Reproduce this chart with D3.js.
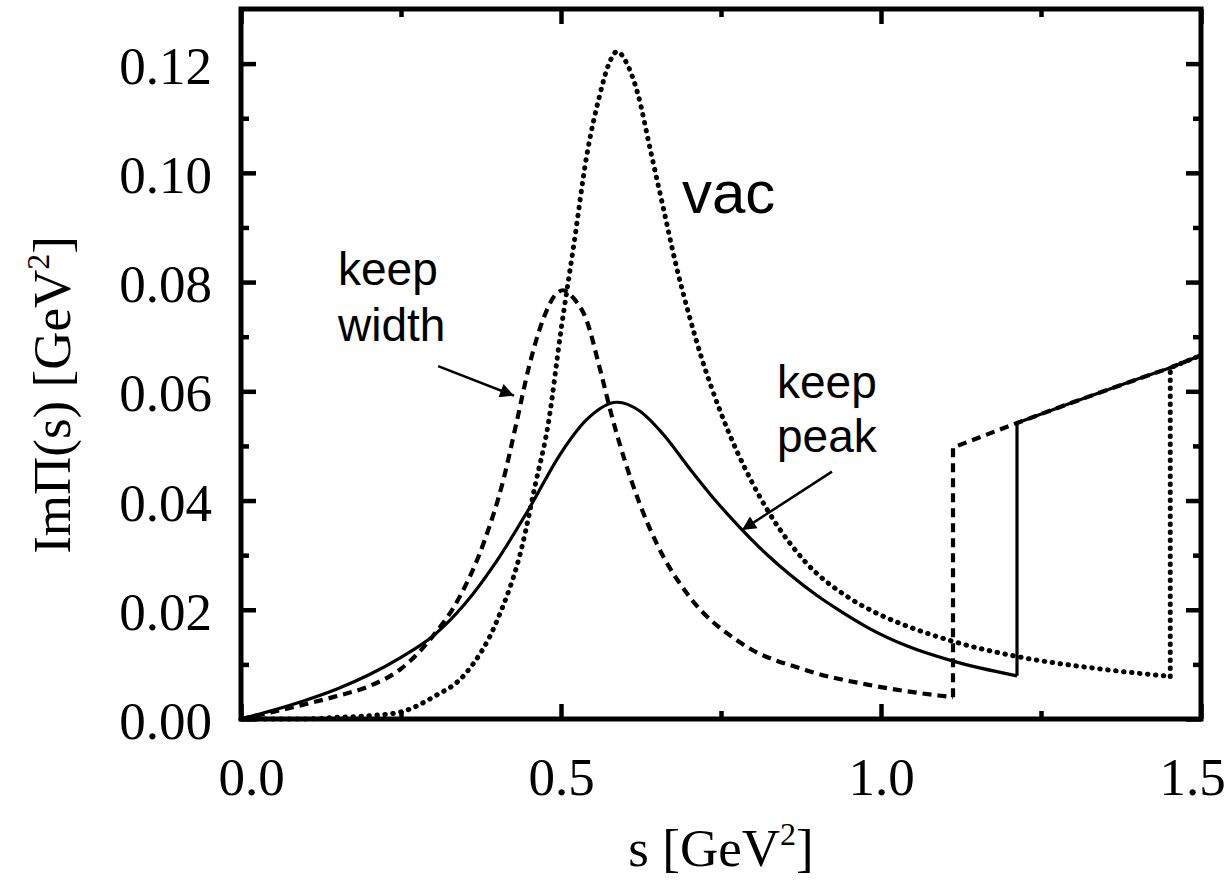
<!DOCTYPE html>
<html>
<head>
<meta charset="utf-8">
<script src="https://cdn.jsdelivr.net/npm/d3@7"></script>
<style>
  body { margin: 0; background: #fff; }
  .tick text { font-family: "Liberation Serif", "Times New Roman", serif; font-size: 53px; fill: #000; }
  .note { font-family: "Liberation Sans", Arial, sans-serif; fill: #000; }
</style>
</head>
<body>
<div id="vis"></div>
<script>
// ---------------------------------- datos ----------------------------------
// s [GeV^2] e ImPi(s) [GeV^2]
const S_VAC = [0, 0.1, 0.15, 0.2, 0.25, 0.3, 0.35, 0.4, 0.44, 0.46, 0.48, 0.5, 0.52, 0.54, 0.56, 0.575,
  0.5875, 0.605, 0.62, 0.64, 0.66, 0.68, 0.70, 0.72, 0.75, 0.8, 0.88, 0.95, 1.0, 1.03, 1.11, 1.21, 1.34, 1.452];
const V_VAC = [0, 0, 0.0003, 0.0006, 0.0013, 0.0040, 0.0082, 0.0180, 0.0320, 0.0430, 0.0540, 0.0712, 0.0868, 0.1030, 0.1140, 0.1200,
  0.1222, 0.1195, 0.1145, 0.1040, 0.0935, 0.0830, 0.0740, 0.0660, 0.0560, 0.0430, 0.0290, 0.0222, 0.0190, 0.0175, 0.0143, 0.0115, 0.0092, 0.0078];

const S_PEAK = [0, 0.05, 0.1, 0.15, 0.2, 0.25, 0.3, 0.35, 0.4, 0.45, 0.5, 0.54, 0.5875, 0.623, 0.66, 0.702,
  0.74, 0.78, 0.82, 0.858, 0.9, 0.936, 0.98, 1.04, 1.1125, 1.2125];
const V_PEAK = [0, 0.0016, 0.0034, 0.0055, 0.0081, 0.0113, 0.0152, 0.0211, 0.0290, 0.0385, 0.0487, 0.0548, 0.0580, 0.0564, 0.0521, 0.0457,
  0.0402, 0.0350, 0.0303, 0.0264, 0.0226, 0.0198, 0.0167, 0.0134, 0.0106, 0.0079];

const S_WIDTH = [0, 0.05, 0.1, 0.15, 0.2, 0.25, 0.3, 0.34, 0.38, 0.41, 0.43, 0.45, 0.47, 0.49, 0.503, 0.52,
  0.54, 0.56, 0.58, 0.60, 0.623, 0.65, 0.70, 0.78, 0.884, 0.988, 1.09, 1.1125];
const V_WIDTH = [0, 0.0013, 0.0027, 0.0042, 0.0060, 0.0092, 0.0152, 0.0220, 0.0325, 0.0438, 0.0540, 0.0645, 0.0725, 0.0775, 0.0785, 0.0770,
  0.0730, 0.0645, 0.0552, 0.0472, 0.0394, 0.0320, 0.0225, 0.0140, 0.0089, 0.0061, 0.0043, 0.0040];

// continuo comun sobre el umbral
const S_CONT = [1.1125, 1.2125, 1.3, 1.4, 1.452, 1.5];
const V_CONT = [0.0497, 0.0542, 0.0580, 0.0622, 0.0643, 0.0666];

const X_TICKS = [0, 0.5, 1.0, 1.5];
const X_MINOR = [0.25, 0.75, 1.25];
const Y_TICKS = [0, 0.02, 0.04, 0.06, 0.08, 0.10, 0.12];
const Y_MINOR = [0.01, 0.03, 0.05, 0.07, 0.09, 0.11];

// ---------------------------------- svg ----------------------------------
const WIDTH = 1230;
const HEIGHT = 888;
const SVG = d3.select("#vis").append("svg").attr("width", WIDTH).attr("height", HEIGHT);
SVG.append("rect").attr("width", WIDTH).attr("height", HEIGHT).attr("fill", "#fff");

const LEFT = 241, RIGHT = 1201, TOP = 9, BOTTOM = 719;
const x = d3.scaleLinear().domain([0, 1.5]).range([LEFT, RIGHT]);
const y = d3.scaleLinear().domain([0, 0.13]).range([BOTTOM, TOP]);

// ejes (ticks hacia adentro)
const fmtY = d3.format(".2f");
const fmtX = d3.format(".1f");

const gLeft = SVG.append("g").attr("transform", `translate(${LEFT},0)`)
    .call(d3.axisLeft(y).tickValues(Y_TICKS).tickFormat(fmtY).tickSize(-15).tickPadding(29));
gLeft.selectAll("text").attr("dy", "0.37em");
SVG.append("g").attr("transform", `translate(${LEFT},0)`)
    .call(d3.axisLeft(y).tickValues(Y_MINOR).tickFormat("").tickSize(-8));
SVG.append("g").attr("transform", `translate(${RIGHT},0)`)
    .call(d3.axisRight(y).tickValues(Y_TICKS).tickFormat("").tickSize(-15));
SVG.append("g").attr("transform", `translate(${RIGHT},0)`)
    .call(d3.axisRight(y).tickValues(Y_MINOR).tickFormat("").tickSize(-8));

const gBottom = SVG.append("g").attr("transform", `translate(0,${BOTTOM})`)
    .call(d3.axisBottom(x).tickValues(X_TICKS).tickFormat(fmtX).tickSize(-15).tickPadding(38));
gBottom.selectAll("text").attr("dx", d => d === 0 ? 10 : (d === 1.5 ? -9 : 0));
SVG.append("g").attr("transform", `translate(0,${BOTTOM})`)
    .call(d3.axisBottom(x).tickValues(X_MINOR).tickFormat("").tickSize(-8));
SVG.append("g").attr("transform", `translate(0,${TOP})`)
    .call(d3.axisTop(x).tickValues(X_TICKS).tickFormat("").tickSize(-15));
SVG.append("g").attr("transform", `translate(0,${TOP})`)
    .call(d3.axisTop(x).tickValues(X_MINOR).tickFormat("").tickSize(-8));

SVG.selectAll(".domain").remove();
SVG.selectAll(".tick line").attr("stroke", "#000").attr("stroke-width", 4.5);

// ---------------------------------- curvas ----------------------------------
const lineCurve = d3.line().x(d => x(d[0])).y(d => y(d[1])).curve(d3.curveMonotoneX);
const lineStraight = d3.line().x(d => x(d[0])).y(d => y(d[1]));

const SERIES = [
  { s: S_WIDTH, v: V_WIDTH, thr: 1.1125, width: 4.2, dash: "9 6", cap: "butt" },
  { s: S_VAC, v: V_VAC, thr: 1.452, width: 5, dash: "0.5 7.5", cap: "round" },
  { s: S_PEAK, v: V_PEAK, thr: 1.2125, width: 3.2, dash: null, cap: "butt" }
];

SERIES.forEach(sr => {
  const pts = sr.s.map((s, i) => [s, sr.v[i]]);
  const last = pts[pts.length - 1];
  const cont = S_CONT.map((s, i) => [s, V_CONT[i]]).filter(d => d[0] >= sr.thr);
  const tail = [last].concat(cont);
  [[lineCurve, pts], [lineStraight, tail]].forEach(([gen, data]) => {
    SVG.append("path")
        .attr("d", gen(data))
        .attr("fill", "none")
        .attr("stroke", "#000")
        .attr("stroke-width", sr.width)
        .attr("stroke-dasharray", sr.dash)
        .attr("stroke-linecap", sr.cap)
        .attr("stroke-linejoin", "round");
  });
});

// marco
SVG.append("rect")
    .attr("x", LEFT).attr("y", TOP)
    .attr("width", RIGHT - LEFT).attr("height", BOTTOM - TOP)
    .attr("fill", "none").attr("stroke", "#000").attr("stroke-width", 5);

// ---------------------------------- titulos ----------------------------------
const xTitle = SVG.append("text")
    .attr("x", x(0.75)).attr("y", 866)
    .attr("text-anchor", "middle")
    .style("font-family", "'Liberation Serif', 'Times New Roman', serif")
    .style("font-size", "53px");
xTitle.append("tspan").text("s [GeV");
xTitle.append("tspan").attr("dy", -21).style("font-size", "32px").text("2");
xTitle.append("tspan").attr("dy", 21).text("]");

const yTitle = SVG.append("text")
    .attr("transform", `translate(70,${395}) rotate(-90)`)
    .attr("text-anchor", "middle")
    .style("font-family", "'Liberation Serif', 'Times New Roman', serif")
    .style("font-size", "53px");
yTitle.append("tspan").text("ImΠ(s) [GeV");
yTitle.append("tspan").attr("dy", -21).style("font-size", "32px").text("2");
yTitle.append("tspan").attr("dy", 21).text("]");

// ---------------------------------- anotaciones ----------------------------------
SVG.append("defs").append("marker")
    .attr("id", "flecha")
    .attr("viewBox", "0 0 10 10")
    .attr("refX", 10).attr("refY", 5)
    .attr("markerUnits", "userSpaceOnUse")
    .attr("markerWidth", 17).attr("markerHeight", 14)
    .attr("orient", "auto")
    .append("path").attr("d", "M0,0 L10,5 L0,10 Z").attr("fill", "#000");

SVG.append("text").attr("class", "note")
    .attr("x", x(0.689)).attr("y", y(0.0926))
    .style("font-size", "60px").text("vac");

const kw = SVG.append("text").attr("class", "note")
    .attr("x", x(0.1516)).attr("y", y(0.0794))
    .style("font-size", "46px");
kw.append("tspan").text("keep");
kw.append("tspan").attr("x", x(0.1516)).attr("dy", 56).text("width");

const kp = SVG.append("text").attr("class", "note")
    .attr("x", x(0.8375)).attr("y", y(0.0588))
    .style("font-size", "46px");
kp.append("tspan").text("keep");
kp.append("tspan").attr("x", x(0.8375)).attr("dy", 54).text("peak");

SVG.append("line")
    .attr("x1", x(0.308)).attr("y1", y(0.0646))
    .attr("x2", x(0.4266)).attr("y2", y(0.0592))
    .attr("stroke", "#000").attr("stroke-width", 2.5)
    .attr("marker-end", "url(#flecha)");

SVG.append("line")
    .attr("x1", x(0.9234)).attr("y1", y(0.0453))
    .attr("x2", x(0.7828)).attr("y2", y(0.0346))
    .attr("stroke", "#000").attr("stroke-width", 2.5)
    .attr("marker-end", "url(#flecha)");
</script>
</body>
</html>
